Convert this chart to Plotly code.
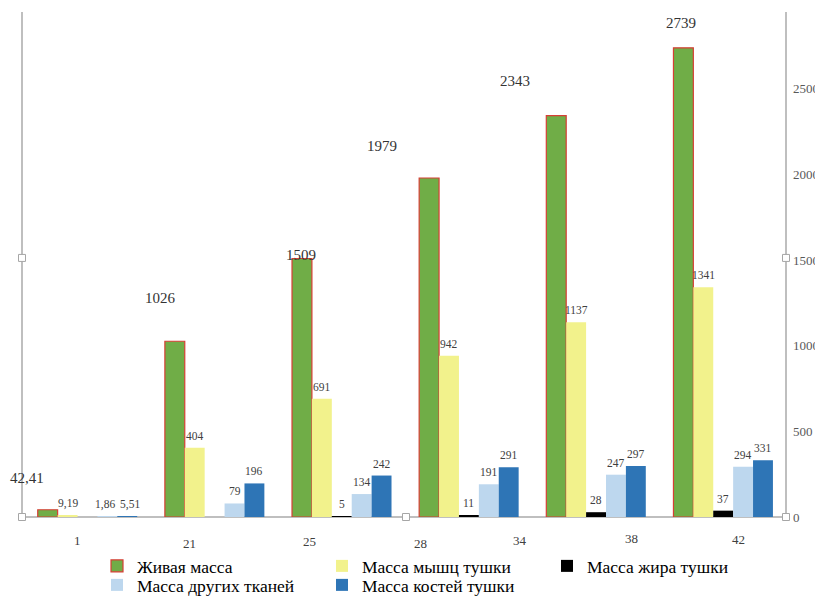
import plotly.graph_objects as go

# ---------------- data ----------------
group_index = [0, 1, 2, 3, 4, 5]
axis_labels = ["1", "21", "25", "28", "34", "38", "42"]
live_mass = [42.41, 1026, 1509, 1979, 2343, 2739]
muscle_mass = [9.19, 404, 691, 942, 1137, 1341]
fat_mass = [None, None, 5, 11, 28, 37]
other_mass = [1.86, 79, 134, 191, 247, 294]
bone_mass = [5.51, 196, 242, 291, 297, 331]
series_names = ["Живая масса", "Масса мышц тушки", "Масса жира тушки",
                "Масса других тканей", "Масса костей тушки"]
y_ticks = [0, 500, 1000, 1500, 2000, 2500]

# ---------------- style ----------------
FONT = "Liberation Serif"
colors = ["#70AD47", "#F2F28C", "#000000", "#BDD7EE", "#2E75B6"]
line_colors = ["#D63F35", "#F2F28C", "#000000", "#BDD7EE", "#2E75B6"]
line_widths = [1.2, 0, 0, 0, 0]
legend_of = ["legend", "legend", "legend", "legend2", "legend2"]
BARGAP = 0.2175
n_series = 5
bar_w = (1 - BARGAP) / n_series
# small horizontal nudges (px) for crowded labels: (series, group) -> shift
label_nudge = {(3, 0): -2, (4, 0): 3}

# the page body adds an 8px offset; figure is sized to compensate
W, H = 815, 589


def fmt(v):
    return f"{v:g}".replace(".", ",")


series = [live_mass, muscle_mass, fat_mass, other_mass, bone_mass]

fig = go.Figure()
for k, (name, vals) in enumerate(zip(series_names, series)):
    fig.add_trace(go.Bar(
        x=group_index, y=vals, name=name, legend=legend_of[k],
        marker=dict(color=colors[k], line=dict(color=line_colors[k], width=line_widths[k])),
        hoverinfo="skip",
    ))

annotations = []
# data labels for the smaller series (just above each bar)
for k in range(1, n_series):
    off = (k - 2) * bar_w
    for i, v in zip(group_index, series[k]):
        if v is None:
            continue
        annotations.append(dict(
            x=i + off, y=v, xref="x", yref="y", text=fmt(v), showarrow=False,
            yanchor="middle", xanchor="center", yshift=12,
            xshift=label_nudge.get((k, i), 0),
            font=dict(family=FONT, size=11.5, color="#404040")))

# live mass labels (manually moved in the original)
live_dx = [-21, -14, -1, -47, -41, -2]
live_dy = [32, 43, 4, 32, 35, 25]
off0 = -2 * bar_w
for i, v, dx, dy in zip(group_index, live_mass, live_dx, live_dy):
    annotations.append(dict(
        x=i + off0, y=v, xref="x", yref="y", text=fmt(v), showarrow=False,
        yanchor="middle", xanchor="center", xshift=dx, yshift=dy,
        font=dict(family=FONT, size=15, color="#333333")))

# category labels (placed loosely under the axis as in the original)
lab_x = [0.0729, 0.2188, 0.3763, 0.5221, 0.6523, 0.7982, 0.9375]
lab_dy = [-23, -26, -24, -26, -23, -21, -22]
for t, lx, dy in zip(axis_labels, lab_x, lab_dy):
    annotations.append(dict(
        x=lx, y=0, xref="paper", yref="paper", text=t, showarrow=False,
        yanchor="middle", xanchor="center", yshift=dy,
        font=dict(family=FONT, size=13, color="#404040")))

shapes = []
frame_col = "#BFBFBF"
for (x0, y0, x1, y1) in [(0, 0, 0, 1), (1, 0, 1, 1), (0, 0, 1, 0)]:
    shapes.append(dict(type="line", xref="paper", yref="paper", x0=x0, y0=y0, x1=x1, y1=y1,
                       line=dict(color=frame_col, width=2), layer="below"))
for (hx, hy) in [(0, 0.513), (0, 0), (0.5026, 0), (1, 0), (1, 0.513)]:
    shapes.append(dict(type="rect", xref="paper", yref="paper",
                       xsizemode="pixel", ysizemode="pixel", xanchor=hx, yanchor=hy,
                       x0=-3.5, x1=3.5, y0=-3.5, y1=3.5,
                       fillcolor="white", line=dict(color="#A6A6A6", width=1), layer="above"))

legend_style = dict(orientation="h", xref="container", yref="container",
                    xanchor="left", yanchor="top",
                    entrywidth=180, entrywidthmode="pixels",
                    font=dict(family=FONT, size=17.5, color="#000000"),
                    traceorder="normal", bgcolor="rgba(0,0,0,0)")

fig.update_layout(
    width=W, height=H,
    margin=dict(l=14, r=33, t=4, b=80),
    paper_bgcolor="white", plot_bgcolor="white",
    barmode="group", bargap=BARGAP, bargroupgap=0,
    showlegend=True,
    legend=dict(x=89 / W, y=1 - 540 / H, **legend_style),
    legend2=dict(x=89 / W, y=1 - 559 / H, **legend_style),
    xaxis=dict(range=[-0.515, 5.494], showticklabels=False, showgrid=False,
               zeroline=False, showline=False, ticks=""),
    yaxis=dict(range=[0, 2948], side="right", tickvals=y_ticks, showgrid=False,
               zeroline=False, showline=False, ticks="", ticklabelstandoff=6,
               tickfont=dict(family=FONT, size=13, color="#595959")),
    annotations=annotations,
    shapes=shapes,
)

fig.write_html("out.html")
